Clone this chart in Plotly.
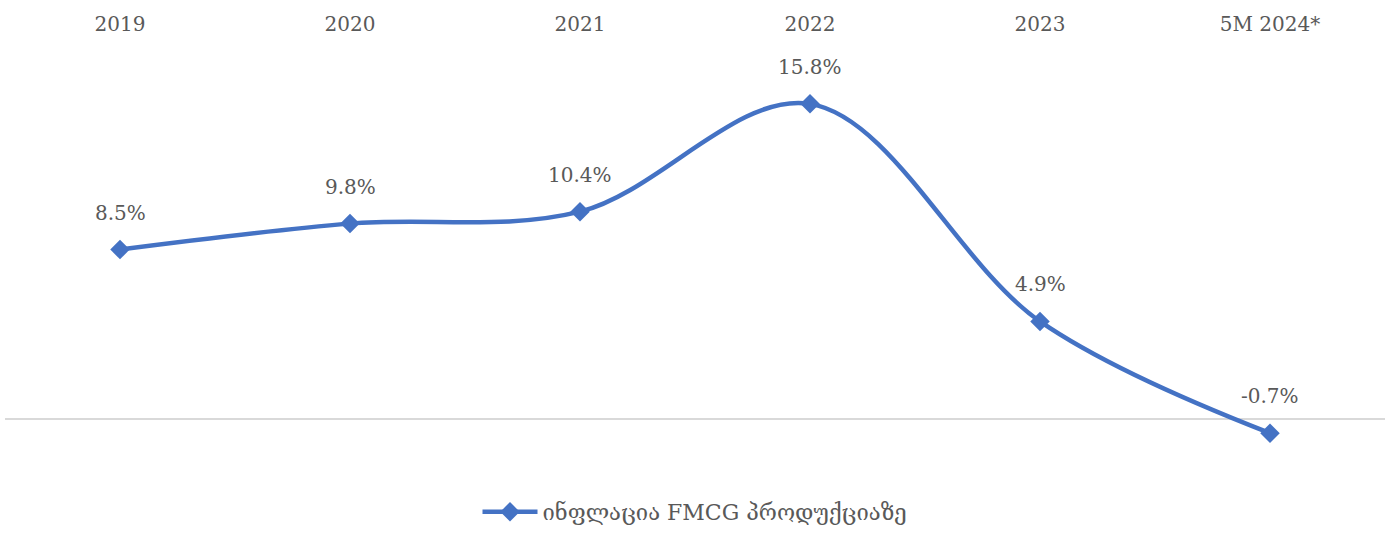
import plotly.graph_objects as go

# Inflation of FMCG products by year
years = ["2019", "2020", "2021", "2022", "2023", "5M 2024*"]
inflation = [8.5, 9.8, 10.4, 15.8, 4.9, -0.7]
series_name = "ინფლაცია FMCG პროდუქციაზე"

blue = "#4472C4"
grey_text = "#595959"
font_family = "DejaVu Serif, Liberation Serif, serif"

fig = go.Figure()
fig.add_trace(go.Scatter(
    x=years,
    y=inflation,
    mode="lines+markers",
    name=series_name,
    line=dict(color=blue, width=4.5, shape="spline", smoothing=1.0),
    marker=dict(symbol="diamond", size=15, color=blue),
))

# value labels above each point (category index used as x position)
for i, v in enumerate(inflation):
    fig.add_annotation(
        x=i, y=v, xref="x", yref="y", text=f"{v:.1f}%", showarrow=False,
        yshift=37, font=dict(size=20, color=grey_text, family=font_family),
    )

fig.update_layout(
    width=1395, height=533,
    margin=dict(l=5, r=10, t=38, b=0),
    paper_bgcolor="white", plot_bgcolor="white",
    font=dict(family=font_family, size=20, color=grey_text),
    showlegend=True,
    legend=dict(
        orientation="h", x=0.5, xanchor="center", y=0.04, yanchor="middle",
        font=dict(size=22, color=grey_text), itemwidth=55,
    ),
    xaxis=dict(
        type="category", side="top", showgrid=False, showline=False,
        zeroline=False, ticks="", ticklabelstandoff=2, range=[-0.5, 5.5],
        tickfont=dict(size=20, color=grey_text),
    ),
    yaxis=dict(
        range=[-5.65, 19.1], showgrid=False, showticklabels=False,
        zeroline=True, zerolinecolor="#D9D9D9", zerolinewidth=1.5,
        showline=False, ticks="",
    ),
)

fig.write_html("out.html")
